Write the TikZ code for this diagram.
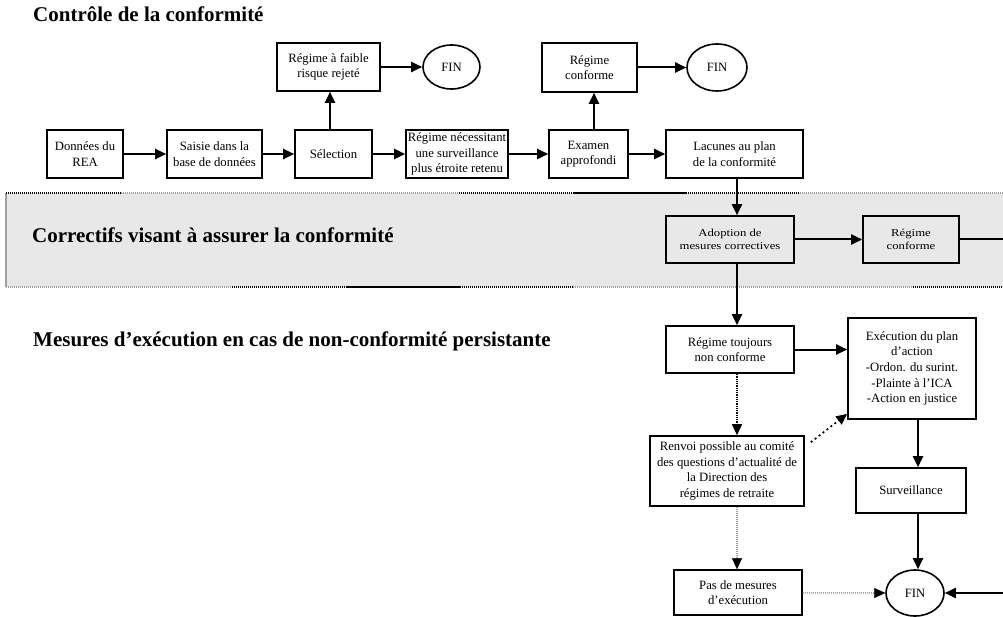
\documentclass[tikz,border=0pt]{standalone}
\usepackage{fontspec}
\setmainfont{Liberation Serif}
\newfontfamily\widefont[FakeStretch=1.2]{Liberation Serif}
\usetikzlibrary{arrows.meta,calc,shapes.geometric}
\definecolor{bandgray}{HTML}{E8E8E8}
\definecolor{dotgray}{HTML}{A0A0A0}
\tikzset{
  tip/.tip={Triangle[length=11pt,width=10pt]},
  box/.style={draw=black, line width=1.6pt, align=center, inner sep=0pt,
    font=\fontsize{12.7}{15.6}\selectfont},
  bandbox/.style={box, font=\widefont\fontsize{10.6}{13}\selectfont},
  finnode/.style={draw=black, line width=1.6pt, ellipse, inner sep=0pt,
    minimum width=58pt, minimum height=46pt, font=\fontsize{12.7}{15}\selectfont},
  arr/.style={line width=2pt, -tip},
  plain/.style={line width=2pt},
  blackdots/.style={line width=1.4pt, dash pattern=on 1pt off 0.8pt},
  graydots/.style={line width=1.5pt, dotgray, dash pattern=on 1pt off 1pt},
  looseline/.style={line width=1.6pt, dash pattern=on 2pt off 3pt, -tip},
  title/.style={anchor=base west, inner sep=0pt, font=\bfseries\fontsize{21}{24}\selectfont},
  bordergray/.style={line width=1.2pt, dotgray, dash pattern=on 1pt off 1pt},
  borderblack/.style={line width=1.2pt, black, dash pattern=on 1pt off 1pt},
  bordersolid/.style={line width=1.8pt, black},
}
\begin{document}
\begin{tikzpicture}[x=1pt,y=-1pt]
\useasboundingbox (0,0) rectangle (1003,617);
% band
\fill[bandgray] (6,193) rectangle (1003,287);
\draw[line width=1.2pt, dotgray] (6,193) -- (6,287);
\draw[borderblack] (6,193) -- (121,193);
\draw[bordergray] (121,193) -- (459,193);
\draw[borderblack] (459,193) -- (573,193);
\draw[bordersolid] (573,193) -- (686,193);
\draw[borderblack] (686,193) -- (800,193);
\draw[bordergray] (800,193) -- (1003,193);
\draw[bordergray] (6,287) -- (232,287);
\draw[borderblack] (232,287) -- (346,287);
\draw[bordersolid] (346,287) -- (460,287);
\draw[borderblack] (460,287) -- (573,287);
\draw[bordergray] (573,287) -- (913,287);
\draw[borderblack] (913,287) -- (1003,287);

% titles
\node[title] (t1) at (33,22) {Contrôle de la conformité};
\node[title] (t2) at (32,243) {Correctifs visant à assurer la conformité};
\node[title] (t3) at (33,346) {Mesures d’exécution en cas de non-conformité persistante};

% top row
\node[box, minimum width=76pt, minimum height=48pt] (don) at (85,154) {Données du\\REA};
\node[box, minimum width=95pt, minimum height=48pt] (sai) at (214.5,154) {Saisie dans la\\base de données};
\node[box, minimum width=77pt, minimum height=48pt] (sel) at (333.5,154) {Sélection};
\node[box, minimum width=102pt, minimum height=48pt] (nec) at (457,154) {Régime nécessitant\\une surveillance\\plus étroite retenu};
\node[box, minimum width=79pt, minimum height=48pt] (exa) at (588.5,154) {Examen\\approfondi};
\node[box, minimum width=137pt, minimum height=48pt] (lac) at (734.5,154) {Lacunes au plan\\de la conformité};

\node[box, minimum width=103pt, minimum height=48pt] (rfr) at (328.5,67) {Régime à faible\\risque rejeté};
\node[finnode, minimum width=57pt, minimum height=44pt] (fin1) at (451.5,67) {FIN};
\node[box, minimum width=95pt, minimum height=49pt] (rc1) at (589.5,67.5) {Régime\\conforme};
\node[finnode, minimum width=60pt, minimum height=47pt] (fin2) at (717,67.5) {FIN};

% band
\node[bandbox, minimum width=128pt, minimum height=47pt] (ado) at (730,239.5) {Adoption de\\mesures correctives};
\node[bandbox, minimum width=96pt, minimum height=47pt] (rc2) at (911,239.5) {Régime\\conforme};

% lower
\node[box, minimum width=128pt, minimum height=47pt] (tou) at (730,349.5) {Régime toujours\\non conforme};
\node[box, minimum width=128pt, minimum height=101pt] (exe) at (912,368.5) {Exécution du plan\\d’action\\-Ordon. du surint.\\-Plainte à l’ICA\\-Action en justice};
\node[box, minimum width=154pt, minimum height=70pt] (ren) at (727,471) {Renvoi possible au comité\\des questions d’actualité de\\la Direction des\\régimes de retraite};
\node[box, minimum width=110pt, minimum height=45pt] (sur) at (911,490.5) {Surveillance};
\node[box, minimum width=128pt, minimum height=45pt] (pas) at (738,592.5) {Pas de mesures\\d’exécution};
\node[finnode, minimum width=58pt, minimum height=46pt] (fin3) at (915,593) {FIN};

% helper coordinates
\coordinate (vx) at (737,0);
\coordinate (sx) at (330,0);
\coordinate (ex) at (594,0);
\coordinate (wx) at (918,0);
\coordinate (re1) at (1003,239.5);
\coordinate (re2) at (1003,593);
\coordinate (rs) at ($(ren.north east)+(6,7)$);
\coordinate (ee) at ($(exe.south west)+(0,-6)$);

% connectors top
\draw[arr] (don) -- (sai);
\draw[arr] (sai) -- (sel);
\draw[arr] (sel) -- (nec);
\draw[arr] (nec) -- (exa);
\draw[arr] (exa) -- (lac);
\draw[arr] (sel.north -| sx) -- (rfr.south -| sx);
\draw[arr] (rfr.east |- fin1) -- (fin1);
\draw[arr] (exa.north -| ex) -- (rc1.south -| ex);
\draw[arr] (rc1) -- (fin2);
% vertical chain
\draw[arr] (lac.south -| vx) -- (ado.north -| vx);
\draw[arr] (ado) -- (rc2);
\draw[plain] (rc2) -- (re1);
\draw[arr] (ado.south -| vx) -- (tou.north -| vx);
\draw[arr] (tou.east) -- (tou.east -| exe.west);
\draw[blackdots, -tip] (tou.south -| vx) -- (ren.north -| vx);
\draw[looseline] (rs) -- (ee);
\draw[graydots] (ren.south -| vx) -- ($(pas.north -| vx)+(0,-10)$);
\draw[-tip, line width=0.1pt] ($(pas.north -| vx)+(0,-10.5)$) -- (pas.north -| vx);
\draw[arr] (exe.south -| wx) -- (sur.north -| wx);
\draw[arr] (sur.south -| wx) -- (fin3.north -| wx);
\draw[graydots] (pas) -- ($(fin3.west)+(-10,0)$);
\draw[-tip, line width=0.1pt] ($(fin3.west)+(-10.5,0)$) -- (fin3.west);
\draw[arr] (re2) -- (fin3);
\end{tikzpicture}
\end{document}
